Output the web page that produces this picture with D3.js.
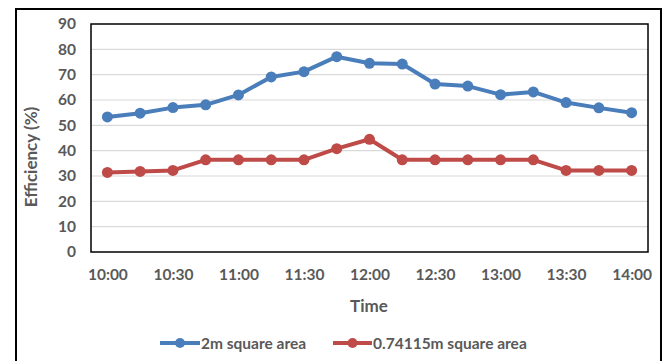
<!DOCTYPE html>
<html>
<head>
<meta charset="utf-8">
<script src="https://cdn.jsdelivr.net/npm/d3@7"></script>
<style>
  html, body { margin: 0; padding: 0; background: #fff; }
  svg { display: block; }
  text { font-family: Lato, "Open Sans", sans-serif; font-weight: bold; fill: #595959; }
</style>
</head>
<body>
<svg id="chart" width="667" height="361"></svg>
<script>
// Time of day (15-minute steps)
const times = ["10:00","10:15","10:30","10:45","11:00","11:15","11:30","11:45",
               "12:00","12:15","12:30","12:45","13:00","13:15","13:30","13:45","14:00"];
// Labelled ticks on the time axis
const timeTickLabels = ["10:00","10:30","11:00","11:30","12:00","12:30","13:00","13:30","14:00"];
// Efficiency (%) for the 2 m² collector
const eff2m = [53.3, 54.8, 57.0, 58.1, 62.0, 69.1, 71.2, 77.1,
               74.5, 74.2, 66.3, 65.5, 62.1, 63.2, 59.0, 56.9, 55.0];
// Efficiency (%) for the 0.74115 m² collector
const eff074 = [31.4, 31.8, 32.2, 36.4, 36.4, 36.4, 36.4, 40.8,
                44.5, 36.4, 36.4, 36.4, 36.4, 36.4, 32.2, 32.2, 32.2];
const yTicks = [0, 10, 20, 30, 40, 50, 60, 70, 80, 90];
const seriesNames = ["2m square area", "0.74115m square area"];
const seriesColors = ["#4a7ebb", "#be4b48"];

const svg = d3.select("#chart");
const plot = { left: 91, top: 24, right: 648, bottom: 252 };

// Outer frame
svg.append("rect")
  .attr("x", 16).attr("y", 9).attr("width", 645).attr("height", 360)
  .attr("fill", "none").attr("stroke", "#000").attr("stroke-width", 2);

const x = d3.scalePoint().domain(times).range([plot.left, plot.right]).padding(0.5);
const y = d3.scaleLinear().domain([0, 90]).range([plot.bottom, plot.top]);

// Horizontal gridlines
svg.append("g")
  .selectAll("line").data(yTicks.filter(d => d > 0 && d < 90)).join("line")
  .attr("x1", plot.left).attr("x2", plot.right)
  .attr("y1", d => y(d)).attr("y2", d => y(d))
  .attr("stroke", "#d9d9d9").attr("stroke-width", 1.2);

// Y axis labels
const yAxis = svg.append("g")
  .attr("transform", `translate(${plot.left},0)`)
  .call(d3.axisLeft(y).tickValues(yTicks).tickSize(0).tickPadding(15));
yAxis.select(".domain").remove();
yAxis.selectAll("text").style("font-size", "15.5px").attr("fill", "#595959")
  .style("font-family", "Lato, 'Open Sans', sans-serif");

// X axis labels
const xAxis = svg.append("g")
  .attr("transform", `translate(0,${plot.bottom})`)
  .call(d3.axisBottom(x).tickValues(timeTickLabels).tickSize(0).tickPadding(17));
xAxis.select(".domain").remove();
xAxis.selectAll("text").style("font-size", "15.5px").attr("fill", "#595959")
  .style("font-family", "Lato, 'Open Sans', sans-serif");

// Plot area border
svg.append("rect")
  .attr("x", plot.left).attr("y", plot.top)
  .attr("width", plot.right - plot.left).attr("height", plot.bottom - plot.top)
  .attr("fill", "none").attr("stroke", "#000").attr("stroke-width", 1.5);

// Series lines and markers
const allSeries = [eff2m, eff074];
const line = d3.line().x((d, i) => x(times[i])).y(d => y(d));
allSeries.forEach((vals, s) => {
  svg.append("path").datum(vals)
    .attr("d", line).attr("fill", "none")
    .attr("stroke", seriesColors[s]).attr("stroke-width", 4)
    .attr("stroke-linejoin", "round");
  svg.append("g").selectAll("circle").data(vals).join("circle")
    .attr("cx", (d, i) => x(times[i])).attr("cy", d => y(d))
    .attr("r", 5.5).attr("fill", seriesColors[s]);
});

// Axis titles
svg.append("text")
  .attr("x", 369).attr("y", 312).attr("text-anchor", "middle")
  .style("font-size", "17px").text("Time");
svg.append("text")
  .attr("transform", "translate(37,157) rotate(-90)").attr("text-anchor", "middle")
  .style("font-size", "17px").text("Efficiency (%)");

// Legend
const legendItems = [{ x0: 160, x1: 200, tx: 201 }, { x0: 333, x1: 372, tx: 373 }];
legendItems.forEach((it, s) => {
  const g = svg.append("g");
  g.append("line").attr("x1", it.x0).attr("x2", it.x1).attr("y1", 343).attr("y2", 343)
    .attr("stroke", seriesColors[s]).attr("stroke-width", 4);
  g.append("circle").attr("cx", (it.x0 + it.x1) / 2).attr("cy", 343).attr("r", 5)
    .attr("fill", seriesColors[s]);
  g.append("text").attr("x", it.tx).attr("y", 348.5)
    .style("font-size", "15.5px").text(seriesNames[s]);
});
</script>
</body>
</html>
